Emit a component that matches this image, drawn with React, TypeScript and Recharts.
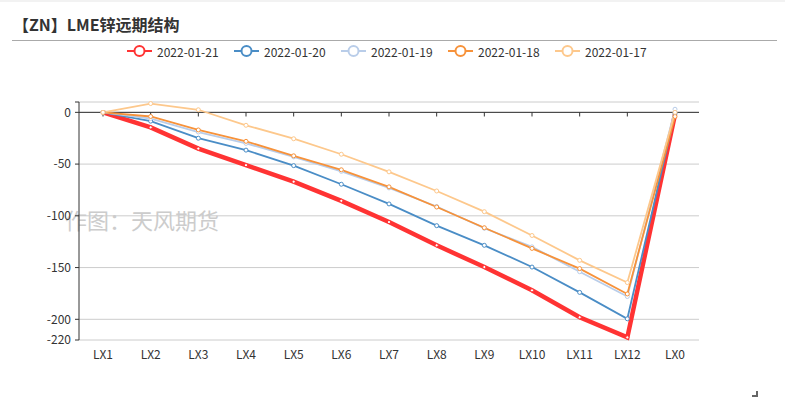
import React from 'react';
import { LineChart, Line, XAxis, YAxis, CartesianGrid, ReferenceLine } from 'recharts';

const categories = ['LX1', 'LX2', 'LX3', 'LX4', 'LX5', 'LX6', 'LX7', 'LX8', 'LX9', 'LX10', 'LX11', 'LX12', 'LX0'];
const d0121 = [0, -14.5, -35, -51, -67, -85.5, -106, -128.5, -149.5, -172, -198, -217.5, -2];
const d0120 = [0, -8.5, -25, -36.5, -51.5, -69.5, -88.5, -109.5, -128.5, -149.5, -174, -199.5, -1];
const d0119 = [0, -6, -19, -30, -43, -57, -73, -91, -112, -130, -154, -178, 3];
const d0118 = [0, -4, -17, -28, -42, -55.5, -72, -91.5, -111.5, -131.5, -151, -175.5, -4];
const d0117 = [0, 8.5, 2.5, -12.5, -25.5, -40.5, -57.5, -76, -96, -119, -143, -164.5, 0];
const yTicks = [10, 0, -50, -100, -150, -200, -220];

const series = [
  { key: 'd0121', name: '2022-01-21', color: '#ff3333', width: 4.5, values: d0121 },
  { key: 'd0120', name: '2022-01-20', color: '#4a8dc6', width: 1.8, values: d0120 },
  { key: 'd0119', name: '2022-01-19', color: '#b9cde9', width: 1.8, values: d0119 },
  { key: 'd0118', name: '2022-01-18', color: '#f7923a', width: 1.8, values: d0118 },
  { key: 'd0117', name: '2022-01-17', color: '#fdc88c', width: 1.8, values: d0117 },
];

const data = categories.map((c, i) => {
  const row: any = { name: c };
  series.forEach((s) => { row[s.key] = s.values[i]; });
  return row;
});

const font = '"Microsoft YaHei", "Noto Sans CJK SC", sans-serif';

const LegendIcon = ({ color }: { color: string }) => (
  <svg width={25} height={14} style={{ display: 'block' }}>
    <line x1={0} y1={7} x2={25} y2={7} stroke={color} strokeWidth={2} />
    <circle cx={12.5} cy={7} r={5} fill="#fff" stroke={color} strokeWidth={2} />
  </svg>
);

export default function App() {
  return (
    <div style={{ position: 'absolute', left: 0, top: 0, width: 785, height: 400, background: '#fff', fontFamily: font, overflow: 'hidden' }}>
      <div style={{ position: 'absolute', left: 0, top: 0, width: 785, height: 2, background: '#f2f2f2' }} />
      <div style={{ position: 'absolute', left: 13, top: 12, fontSize: 16, fontWeight: 'bold', color: '#333', lineHeight: '24px' }}>
        【ZN】LME锌远期结构
      </div>
      <div style={{ position: 'absolute', left: 12, top: 40, width: 765, height: 1, background: '#aaa' }} />
      <div style={{ position: 'absolute', left: 127, top: 43, display: 'flex', alignItems: 'center', height: 16 }}>
        {series.map((s) => (
          <div key={s.key} style={{ display: 'flex', alignItems: 'center', width: 107 }}>
            <LegendIcon color={s.color} />
            <span style={{ marginLeft: 5, fontSize: 12, color: '#333' }}>{s.name}</span>
          </div>
        ))}
      </div>
      <div style={{ position: 'absolute', left: 65, top: 203, fontSize: 22, color: '#ccc', whiteSpace: 'nowrap' }}>
        作图：天风期货
      </div>
      <div style={{ position: 'absolute', left: 0, top: 0 }}>
        <LineChart width={785} height={400} data={data} margin={{ top: 102, right: 86, left: 39, bottom: 30 }}>
          <CartesianGrid vertical={false} stroke="#ccc" />
          <XAxis
            dataKey="name"
            axisLine={false}
            tickLine={false}
            interval={0}
            height={30}
            padding={{ left: 24, right: 24 }}
            tick={{ fill: '#333', fontSize: 12 }}
            tickMargin={4}
          />
          <YAxis
            type="number"
            domain={[-220, 10]}
            ticks={yTicks}
            interval={0}
            width={40}
            axisLine={{ stroke: '#333' }}
            tickLine={{ stroke: '#333' }}
            tickSize={4}
            tickMargin={4}
            tick={{ fill: '#333', fontSize: 12 }}
            tickFormatter={(v: number) => (v === 10 ? '' : String(v))}
          />
          <ReferenceLine y={0} stroke="#333" />
          {categories.map((c) => (
            <ReferenceLine key={c} segment={[{ x: c, y: 0 }, { x: c, y: -4 }]} stroke="#333" />
          ))}
          {series.map((s) => (
            <Line
              key={s.key}
              type="linear"
              dataKey={s.key}
              name={s.name}
              stroke={s.color}
              strokeWidth={s.width}
              dot={{ r: s.width > 3 ? 1.6 : 2, fill: '#fff', stroke: s.color, strokeWidth: 1 }}
              isAnimationActive={false}
            />
          ))}
        </LineChart>
      </div>
      <div style={{ position: 'absolute', left: 752, top: 391, width: 4, height: 4, borderRight: '2px solid #666', borderBottom: '2px solid #666' }} />
    </div>
  );
}
